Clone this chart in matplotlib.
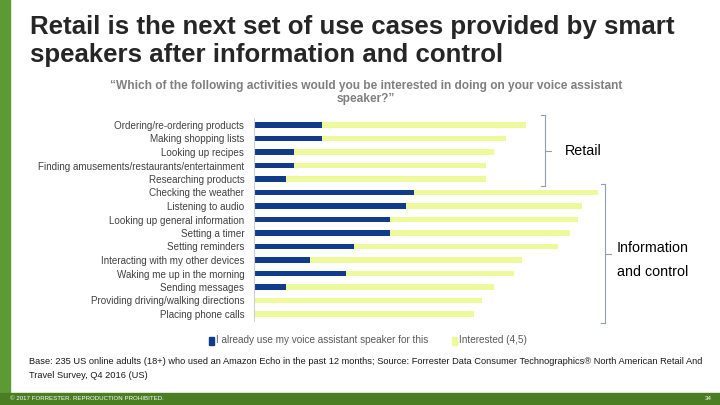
import matplotlib.pyplot as plt
from matplotlib.patches import Rectangle
from matplotlib.lines import Line2D

plt.rcParams['font.family'] = ['Liberation Sans', 'DejaVu Sans']

activities = [
    'Ordering/re-ordering products',
    'Making shopping lists',
    'Looking up recipes',
    'Finding amusements/restaurants/entertainment',
    'Researching products',
    'Checking the weather',
    'Listening to audio',
    'Looking up general information',
    'Setting a timer',
    'Setting reminders',
    'Interacting with my other devices',
    'Waking me up in the morning',
    'Sending messages',
    'Providing driving/walking directions',
    'Placing phone calls',
]
already_use = [17, 17, 10, 10, 8, 40, 38, 34, 34, 25, 14, 23, 8, 0, 0]
interested = [51, 46, 50, 48, 50, 46, 44, 47, 45, 51, 53, 42, 52, 57, 55]

legend_labels = ['I already use my voice assistant speaker for this', 'Interested (4,5)']
dark_blue = '#0f3b8a'
light_yellow = '#edf99a'

W, H = 720, 405
fig = plt.figure(figsize=(7.2, 4.05), dpi=100)

# green frame
fig.patches.append(Rectangle((0, 12 / H), 10 / W, 1, transform=fig.transFigure, color='#5e9a34', zorder=0))
fig.patches.append(Rectangle((0, 0), 1, 12 / H, transform=fig.transFigure, color='#4b7e23', zorder=0))

fig.text(30 / W, 1 - 27 / H, 'Retail is the next set of use cases provided by smart',
         fontsize=18.6, fontweight='bold', color='#262626', va='center')
fig.text(30 / W, 1 - 55 / H, 'speakers after information and control',
         fontsize=18.6, fontweight='bold', color='#262626', va='center')
fig.text(366 / W, 1 - 86 / H,
         '\u201cWhich of the following activities would you be interested in doing on your voice assistant',
         fontsize=8.6, fontweight='bold', color='#7f7f7f', ha='center', va='center')
fig.text(366 / W, 1 - 99 / H, 'speaker?\u201d',
         fontsize=8.6, fontweight='bold', color='#7f7f7f', ha='center', va='center')

# bars
ax = fig.add_axes([254 / W, 1 - 320.75 / H, 400 / W, 202.5 / H])
y = list(range(len(activities)))
ax.barh(y, already_use, height=0.38, color=dark_blue)
ax.barh(y, interested, left=already_use, height=0.38, color=light_yellow)
ax.set_xlim(0, 100)
ax.set_ylim(len(activities) - 0.5, -0.5)
ax.set_yticks(y)
ax.set_yticklabels(activities, fontsize=7.1, color='#404040')
ax.tick_params(axis='y', length=0, pad=7)
ax.set_xticks([])
for s in ['top', 'right', 'bottom']:
    ax.spines[s].set_visible(False)
ax.spines['left'].set_color('#d0d0d0')
ax.spines['left'].set_linewidth(0.8)

# brackets
def bracket(x, y0, y1, ym):
    c = '#8f9eb2'
    segs = [((x, y0), (x, y1)), ((x - 4, y0), (x, y0)), ((x - 4, y1), (x, y1)), ((x, ym), (x + 6, ym))]
    for (a, b) in segs:
        fig.add_artist(Line2D([a[0] / W, b[0] / W], [1 - a[1] / H, 1 - b[1] / H], color=c, lw=0.8))

bracket(545, 115, 186, 151)
bracket(605, 184, 323, 254)
fig.text(565 / W, 1 - 151 / H, 'Retail', fontsize=10.3, color='black', va='center')
fig.text(617 / W, 1 - 248 / H, 'Information', fontsize=10.3, color='black', va='center')
fig.text(617 / W, 1 - 272 / H, 'and control', fontsize=10.3, color='black', va='center')

# legend
fig.patches.append(Rectangle((209 / W, 1 - 345 / H), 5 / W, 8 / H, transform=fig.transFigure, color=dark_blue))
fig.text(216 / W, 1 - 340 / H, legend_labels[0], fontsize=7.2, color='#595959', va='center')
fig.patches.append(Rectangle((452 / W, 1 - 345 / H), 5 / W, 8 / H, transform=fig.transFigure, color=light_yellow))
fig.text(459 / W, 1 - 340 / H, legend_labels[1], fontsize=7.2, color='#595959', va='center')

# source note
fig.text(29 / W, 1 - 362 / H,
         'Base: 235 US online adults (18+) who used an Amazon Echo in the past 12 months; Source: Forrester Data Consumer '
         'Technographics\u00ae North American Retail And',
         fontsize=6.7, color='#1a1a1a', va='center')
fig.text(29 / W, 1 - 375 / H, 'Travel Survey, Q4 2016 (US)', fontsize=6.7, color='#1a1a1a', va='center')

fig.text(10 / W, 1 - 399 / H, '\u00a9 2017 FORRESTER. REPRODUCTION PROHIBITED.', fontsize=4.4, color='white', va='center')
fig.text(712 / W, 1 - 399 / H, '34', fontsize=4.4, color='white', va='center', ha='right')

fig.savefig('out.png', dpi=100)
